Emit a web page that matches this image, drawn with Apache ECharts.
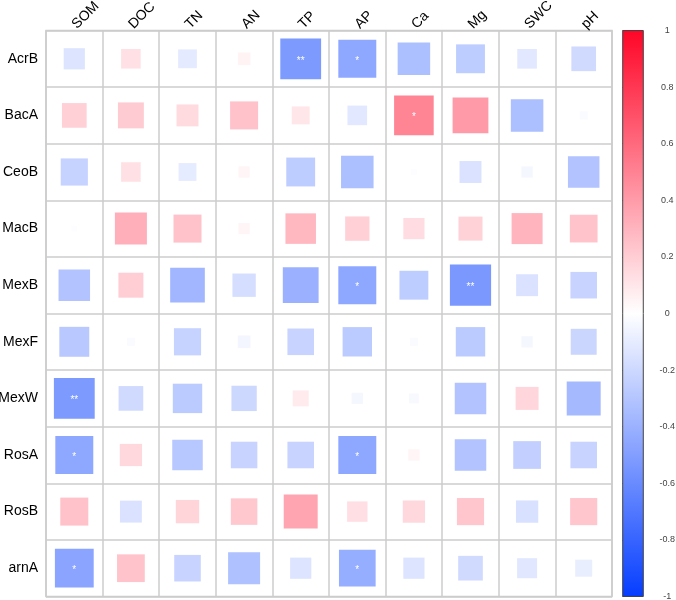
<!DOCTYPE html>
<html>
<head>
<meta charset="utf-8">
<script src="https://cdn.jsdelivr.net/npm/echarts@6/dist/echarts.min.js"></script>
<style>
  html, body { margin: 0; padding: 0; background: #fff; }
  #chart { width: 676px; height: 600px; }
</style>
</head>
<body>
<div id="chart"></div>
<script>
// column / row names
const cols = ['SOM', 'DOC', 'TN', 'AN', 'TP', 'AP', 'Ca', 'Mg', 'SWC', 'pH'];
const rows = ['AcrB', 'BacA', 'CeoB', 'MacB', 'MexB', 'MexF', 'MexW', 'RosA', 'RosB', 'arnA'];

// correlation values, one array per row (order = cols)
const acrB = [-0.14, 0.12, -0.11, 0.05, -0.52, -0.45, -0.33, -0.26, -0.12, -0.19];
const bacA = [0.19, 0.21, 0.15, 0.245, 0.10, -0.12, 0.49, 0.40, -0.33, -0.02];
const ceoB = [-0.23, 0.12, -0.10, 0.04, -0.26, -0.33, -0.01, -0.15, -0.04, -0.31];
const macB = [-0.01, 0.32, 0.245, 0.04, 0.29, 0.185, 0.14, 0.18, 0.30, 0.24];
const mexB = [-0.31, 0.195, -0.375, -0.17, -0.40, -0.45, -0.26, -0.53, -0.15, -0.22];
const mexF = [-0.28, -0.02, -0.23, -0.05, -0.22, -0.27, -0.02, -0.27, -0.04, -0.21];
const mexW = [-0.52, -0.19, -0.27, -0.20, 0.08, -0.04, -0.03, -0.31, 0.165, -0.36];
const rosA = [-0.45, 0.155, -0.29, -0.22, -0.22, -0.45, 0.04, -0.31, -0.24, -0.22];
const rosB = [0.245, -0.15, 0.17, 0.22, 0.36, 0.13, 0.155, 0.23, -0.155, 0.23];
const arnA = [-0.47, 0.24, -0.22, -0.32, -0.14, -0.42, -0.14, -0.19, -0.125, -0.09];
const matrix = [acrB, bacA, ceoB, macB, mexB, mexF, mexW, rosA, rosB, arnA];

// significance marks: [row, col, label]
const sigMarks = [
  ['AcrB', 'TP', '**'], ['AcrB', 'AP', '*'], ['BacA', 'Ca', '*'],
  ['MexB', 'AP', '*'], ['MexB', 'Mg', '**'], ['MexW', 'SOM', '**'],
  ['RosA', 'SOM', '*'], ['RosA', 'AP', '*'], ['arnA', 'SOM', '*'], ['arnA', 'AP', '*']
];

// colour bar ticks
const barTicks = [1, 0.8, 0.6, 0.4, 0.2, 0, -0.2, -0.4, -0.6, -0.8, -1];
const palette = ['#053DFF', '#FFFFFF', '#FF0527'];

const font = "'Liberation Sans', Arial, sans-serif";

let data = [];
for (let i = 0; i < rows.length; i++) {
  for (let j = 0; j < cols.length; j++) {
    let s = sigMarks.find(m => m[0] === rows[i] && m[1] === cols[j]);
    data.push([j, i, matrix[i][j], s ? s[2] : '']);
  }
}

const chart = echarts.init(document.getElementById('chart'));

chart.setOption({
  animation: false,
  textStyle: { fontFamily: font },
  visualMap: {
    show: false,
    seriesIndex: 0,
    dimension: 2,
    min: -1,
    max: 1,
    inRange: { color: palette }
  },
  grid: [
    { left: 46, top: 30.5, width: 566, height: 566, outerBoundsMode: 'none', containLabel: false,
      show: true, borderColor: '#cccccc', borderWidth: 1.5 },
    { left: 622.7, top: 30.5, width: 20.6, height: 566, outerBoundsMode: 'none', containLabel: false }
  ],
  xAxis: [
    {
      gridIndex: 0,
      type: 'category',
      data: cols,
      position: 'top',
      axisLine: { show: false },
      axisTick: { show: false },
      axisLabel: { rotate: -45, fontSize: 14, color: '#000', margin: 4 },
      splitLine: { show: true, interval: 0, lineStyle: { color: '#cccccc', width: 1.5 } }
    },
    { gridIndex: 1, type: 'value', min: 0, max: 1, show: false }
  ],
  yAxis: [
    {
      gridIndex: 0,
      type: 'category',
      data: rows,
      inverse: true,
      axisLine: { show: false },
      axisTick: { show: false },
      axisLabel: { fontSize: 14, color: '#000', margin: 8 },
      splitLine: { show: true, interval: 0, lineStyle: { color: '#cccccc', width: 1.5 } }
    },
    {
      gridIndex: 1,
      type: 'value',
      min: -1,
      max: 1,
      interval: 0.2,
      position: 'right',
      axisLine: { show: false },
      axisTick: { show: true, length: 4, lineStyle: { color: '#333' } },
      splitLine: { show: false },
      axisLabel: {
        fontSize: 9,
        color: '#444',
        align: 'center',
        margin: 24,
        formatter: v => barTicks.indexOf(+v.toFixed(1)) >= 0 ? String(+v.toFixed(1)) : ''
      }
    }
  ],
  series: [
    {
      type: 'custom',
      xAxisIndex: 0,
      yAxisIndex: 0,
      data: data,
      encode: { x: 0, y: 1 },
      renderItem: function (params, api) {
        let c = api.coord([api.value(0), api.value(1)]);
        let cell = api.size([1, 1]);
        let r = api.value(2);
        let side = Math.sqrt(Math.abs(r)) * cell[0];
        let label = data[params.dataIndex][3];
        let children = [{
          type: 'rect',
          shape: { x: c[0] - side / 2, y: c[1] - side / 2, width: side, height: side },
          style: { fill: api.visual('color') }
        }];
        if (label) {
          children.push({
            type: 'text',
            style: {
              text: label, x: c[0], y: c[1] + 2, fill: '#fff',
              fontSize: 10, align: 'center', verticalAlign: 'middle', fontFamily: font
            }
          });
        }
        return { type: 'group', children: children };
      }
    },
    {
      // colour bar
      type: 'custom',
      xAxisIndex: 1,
      yAxisIndex: 1,
      data: [[0, 1, 1, -1]],
      renderItem: function (params, api) {
        let p1 = api.coord([api.value(0), api.value(1)]);
        let p2 = api.coord([api.value(2), api.value(3)]);
        return {
          type: 'rect',
          shape: { x: p1[0], y: p1[1], width: p2[0] - p1[0], height: p2[1] - p1[1] },
          style: {
            fill: new echarts.graphic.LinearGradient(0, 0, 0, 1, [
              { offset: 0, color: palette[2] },
              { offset: 0.5, color: palette[1] },
              { offset: 1, color: palette[0] }
            ]),
            stroke: '#444',
            lineWidth: 1
          }
        };
      }
    }
  ]
});
</script>
</body>
</html>
